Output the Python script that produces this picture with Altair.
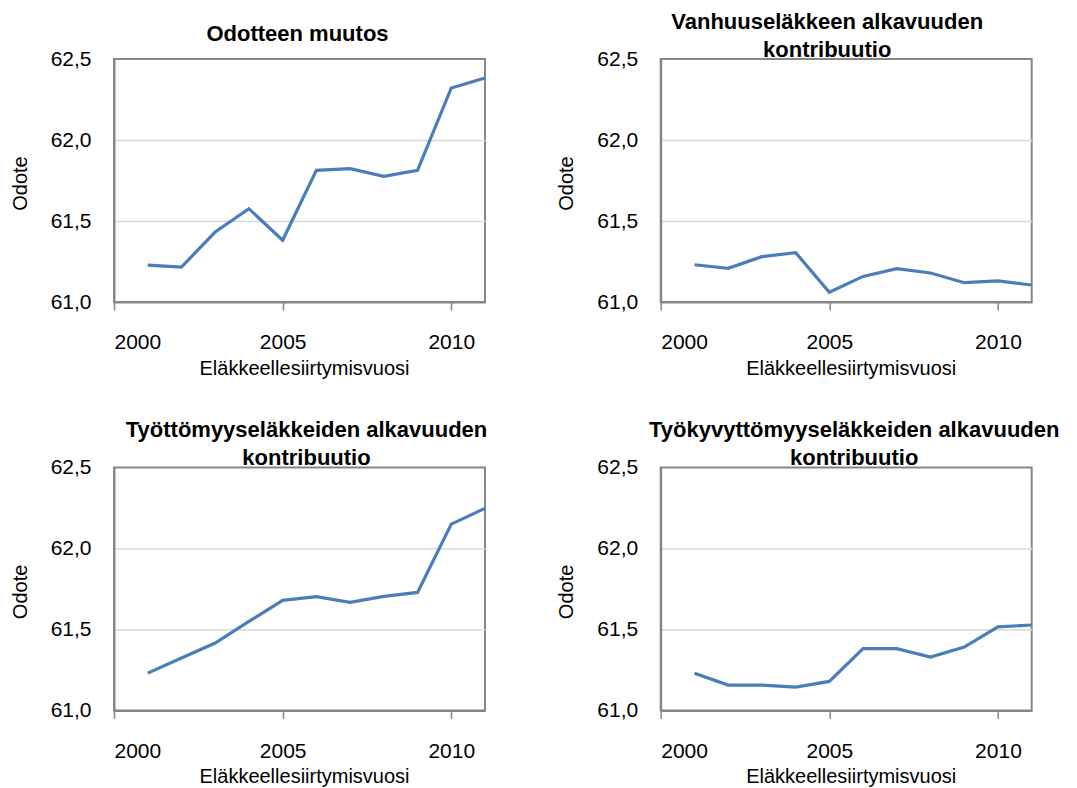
import altair as alt
import pandas as pd

years = list(range(2001, 2012))
odotteen_muutos = [61.228, 61.216, 61.432, 61.576, 61.381, 61.813, 61.823, 61.776, 61.813, 62.321, 62.383]
vanhuus = [61.230, 61.208, 61.280, 61.305, 61.060, 61.158, 61.206, 61.179, 61.119, 61.130, 61.105]
tyottomyys = [61.230, 61.323, 61.416, 61.549, 61.679, 61.702, 61.667, 61.704, 61.728, 62.150, 62.247]
tyokyvyttomyys = [61.230, 61.156, 61.156, 61.144, 61.179, 61.381, 61.381, 61.329, 61.391, 61.516, 61.527]

title1 = "Odotteen muutos"
title2 = ["Vanhuuseläkkeen alkavuuden", "kontribuutio"]
title3 = ["Työttömyyseläkkeiden alkavuuden", "kontribuutio"]
title4 = ["Työkyvyttömyyseläkkeiden alkavuuden", "kontribuutio"]

x_ticks = [2000, 2005, 2010]
y_ticks = [61.0, 61.5, 62.0, 62.5]
x_title = "Eläkkeellesiirtymisvuosi"
y_title = "Odote"

LINE = "#4a7ebb"
GRAY = "#868686"
FONT = "Liberation Sans"
W, H = 371, 243


def panel(values, title, offset, dx):
    df = pd.DataFrame({"year": years, "value": values})
    return (
        alt.Chart(df, title=alt.TitleParams(text=title, offset=offset, dx=dx))
        .mark_line(color=LINE, strokeWidth=3.2)
        .encode(
            x=alt.X(
                "year:Q",
                scale=alt.Scale(domain=[2000, 2011], nice=False, zero=False),
                axis=alt.Axis(
                    values=x_ticks, format="d", title=x_title, grid=False,
                    tickSize=8, tickColor=GRAY, tickWidth=1.5,
                    domainColor=GRAY, domainWidth=2,
                    labelPadding=38.7, labelBaseline="alphabetic",
                    titleX=190, titleY=72, titleBaseline="alphabetic",
                ),
            ),
            y=alt.Y(
                "value:Q",
                scale=alt.Scale(domain=[61.0, 62.5], nice=False, zero=False),
                axis=alt.Axis(
                    values=y_ticks,
                    labelExpr="replace(format(datum.value, '.1f'), '.', ',')",
                    title=y_title, ticks=False, labelPadding=23,
                    domainColor=GRAY, domainWidth=2,
                    gridColor={"condition": {"test": "datum.value <= 61.01 || datum.value >= 62.49",
                                             "value": "transparent"}, "value": "#d9d9d9"},
                    gridWidth=1.5,
                    titleX=-94, titleY=124, titleBaseline="middle",
                ),
            ),
        )
        .properties(width=W, height=H)
    )


p1 = panel(odotteen_muutos, title1, 2, -2)
p2 = panel(vanhuus, title2, -14, -19)
p3 = panel(tyottomyys, title3, -14, 7)
p4 = panel(tyokyvyttomyys, title4, -14, 8)

chart = (
    alt.concat(p1, p2, p3, p4, columns=2, bounds="flush",
               spacing={"row": 165.4, "column": 175.7})
    .properties(padding={"left": 0, "top": 2, "right": 0, "bottom": 0})
    .configure_view(stroke=GRAY, strokeWidth=2)
    .configure_axis(labelFont=FONT, titleFont=FONT, labelFontSize=21, titleFontSize=20,
                    labelColor="#000000", titleColor="#000000", titleFontWeight="normal")
    .configure_title(font=FONT, fontSize=22, fontWeight="bold", color="#000000",
                     lineHeight=28, anchor="middle")
)

chart.save("out.html", embed_options={"renderer": "svg", "actions": False})
